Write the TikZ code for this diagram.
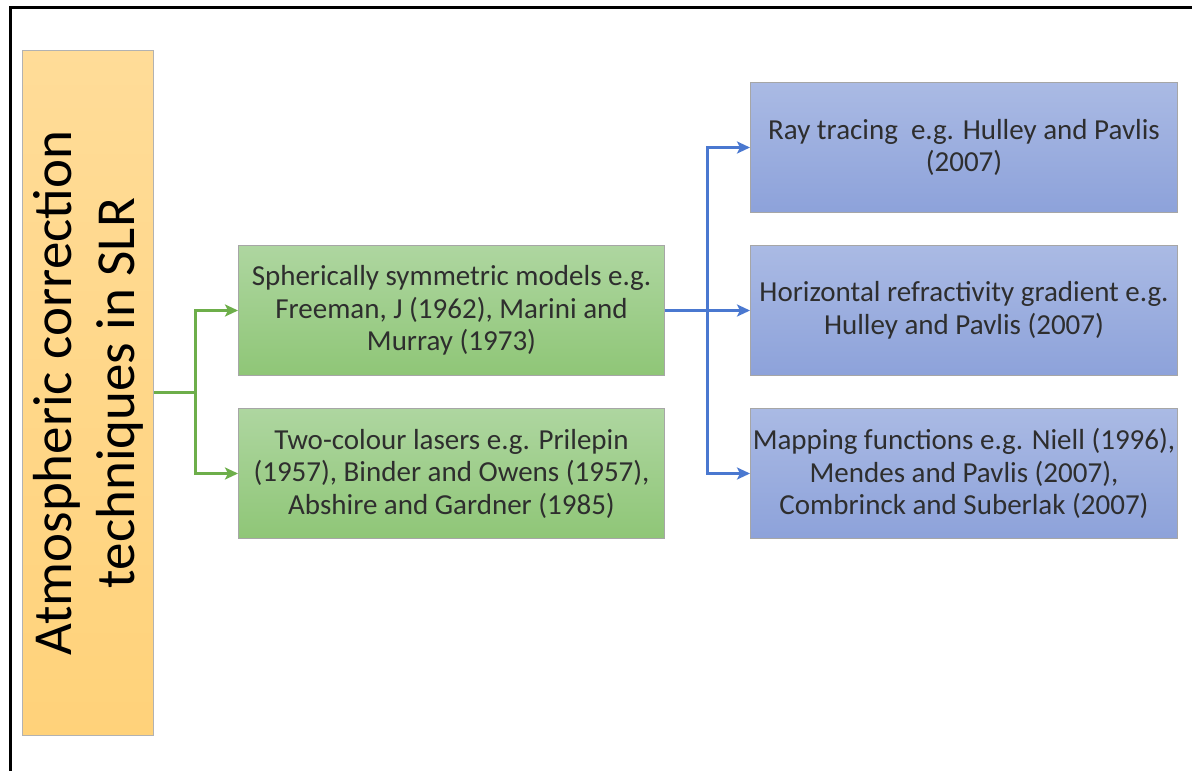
\documentclass[tikz,border=0pt]{standalone}
\usepackage{fontspec}
\setmainfont{Carlito}
\usetikzlibrary{arrows.meta}
\definecolor{txt}{HTML}{2E2E2E}
\definecolor{gline}{HTML}{6DAE4A}
\definecolor{bline}{HTML}{4A78D0}
\definecolor{gTop}{HTML}{AED6A0}
\definecolor{gBot}{HTML}{8FC677}
\definecolor{bTop}{HTML}{AABAE4}
\definecolor{bBot}{HTML}{8DA2DA}
\definecolor{orTop}{HTML}{FFDC98}
\definecolor{orBot}{HTML}{FFD27A}
\tikzset{
  box/.style={draw=black!35, line width=1pt, anchor=north west, minimum width=426pt, minimum height=130pt,
    inner sep=0pt, align=center, text=txt, font=\fontsize{29}{32.5}\selectfont},
  greenbox/.style={box, top color=gTop, bottom color=gBot},
  bluebox/.style={box, top color=bTop, bottom color=bBot, minimum width=427pt},
  garrow/.style={draw=gline, line width=3pt, -{Stealth[length=13pt,width=12pt,inset=3pt]}},
  gconn/.style={draw=gline, line width=3pt},
  barrow/.style={draw=bline, line width=3pt, -{Stealth[length=13pt,width=12pt,inset=3pt]}},
}
\begin{document}
\begin{tikzpicture}[x=1pt,y=-1pt]
\useasboundingbox (0,0) rectangle (1192,771);
% frame
\draw[line width=3pt, black] (10,771) -- (10,7) -- (1192,7);
% orange box
\node[draw=black!30, line width=1pt, anchor=north west, minimum width=131pt, minimum height=685pt, inner sep=0pt,
      top color=orTop, bottom color=orBot] (main) at (22,50) {};
\node[rotate=90, align=center, text=black, font=\fontsize{55}{63}\selectfont] (maintext) at (main.center)
  {Atmospheric correction\\techniques in SLR};
% green boxes
\node[greenbox] (g1) at (238,245) {Spherically symmetric models e.g.\\Freeman, J (1962), Marini and\\Murray (1973)};
\node[greenbox] (g2) at (238,408) {Two-colour lasers e.g. Prilepin\\(1957), Binder and Owens (1957),\\Abshire and Gardner (1985)};
% blue boxes
\node[bluebox] (b1) at (750,82) {Ray tracing\ \ e.g. Hulley and Pavlis\\(2007)};
\node[bluebox] (b2) at (750,245) {Horizontal refractivity gradient e.g.\\Hulley and Pavlis (2007)};
\node[bluebox] (b3) at (750,408) {Mapping functions e.g. Niell (1996),\\Mendes and Pavlis (2007),\\Combrinck and Suberlak (2007)};
% green connectors
\coordinate (gj) at (195,392);
\draw[gconn] (main.east |- gj) -- (gj);
\draw[garrow] (gj) |- (g1.west);
\draw[garrow] (gj) |- (g2.west);
% blue connectors
\coordinate (bj) at (707,310);
\draw[barrow] (g1.east) -- (b2.west);
\draw[barrow] (bj) |- (b1.west);
\draw[barrow] (bj) |- (b3.west);
\end{tikzpicture}
\end{document}
